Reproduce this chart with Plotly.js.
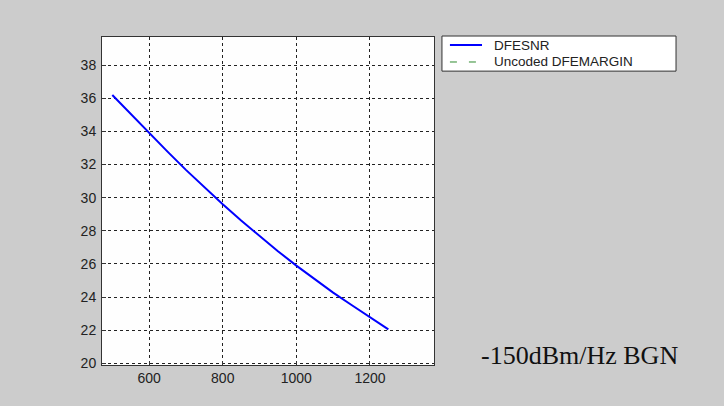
<!DOCTYPE html>
<html>
<head>
<meta charset="utf-8">
<script src="https://cdn.plot.ly/plotly-3.0.1.min.js"></script>
<style>html,body{margin:0;padding:0;background:#cccccc;}#chart{width:724px;height:406px;}</style>
</head>
<body>
<div id="chart"></div>
<script>
// Data
const freq = [500, 550, 600, 650, 700, 750, 800, 850, 900, 950, 1000, 1050, 1100, 1150, 1200, 1250];
const dfesnr = [36.2, 35.05, 33.9, 32.78, 31.68, 30.62, 29.6, 28.62, 27.67, 26.77, 25.9, 25.07, 24.27, 23.52, 22.8, 22.05];
const uncodedX = [null];
const uncodedY = [null];
const seriesNames = ["DFESNR", "Uncoded DFEMARGIN"];
const seriesColors = ["#0000ff", "#2e8b2e"];
const seriesDash = ["solid", "7px,12px"];
const xTicks = [600, 800, 1000, 1200];
const yTicks = [20, 22, 24, 26, 28, 30, 32, 34, 36, 38];
const noteText = "-150dBm/Hz BGN";

const traces = [
  {x: freq, y: dfesnr, name: seriesNames[0], type: "scatter", mode: "lines",
   line: {color: seriesColors[0], width: 2}},
  {x: uncodedX, y: uncodedY, name: seriesNames[1], type: "scatter", mode: "lines",
   line: {color: seriesColors[1], width: 1, dash: seriesDash[1]}}
];

const axisCommon = {
  showline: true, linecolor: "#333333", linewidth: 1, mirror: true,
  showgrid: true, gridcolor: "#222222", gridwidth: 1, griddash: "3px,3px",
  zeroline: false, ticks: "inside", ticklen: 4, tickcolor: "#333333",
  tickfont: {family: "Liberation Sans, Arial, sans-serif", size: 14, color: "#222222"},
  tickmode: "array"
};

// Hand-built legend box (matches the reference's wide, tight legend)
const legX0 = 1.024, legX1 = 1.729, legY0 = 0.896, legY1 = 1.003;
const rowY = [0.9756, 0.9238];
const sampleX0 = 1.048, sampleX1 = 1.1446, textX = 1.1747;

const shapes = [{
  type: "rect", xref: "paper", yref: "paper", x0: legX0, x1: legX1, y0: legY0, y1: legY1,
  fillcolor: "#ffffff", line: {color: "#333333", width: 1}
}];
const annotations = [];
seriesNames.forEach((nm, i) => {
  shapes.push({type: "line", xref: "paper", yref: "paper", x0: sampleX0, x1: sampleX1, y0: rowY[i], y1: rowY[i],
    line: {color: seriesColors[i], width: i === 0 ? 2 : 1, dash: seriesDash[i]}});
  annotations.push({text: nm, xref: "paper", yref: "paper", x: textX, y: rowY[i], xanchor: "left", yanchor: "middle",
    showarrow: false, font: {family: "Liberation Sans, Arial, sans-serif", size: 13.5, color: "#222222"}});
});
annotations.push({
  text: noteText, xref: "paper", yref: "paper", x: 1.136, y: 0.03,
  xanchor: "left", yanchor: "middle", showarrow: false,
  font: {family: "Liberation Serif, Times New Roman, serif", size: 26, color: "#111111"}
});

const layout = {
  width: 724, height: 406,
  paper_bgcolor: "#cccccc", plot_bgcolor: "#fefefe",
  margin: {l: 102, r: 290, t: 37, b: 41},
  xaxis: Object.assign({}, axisCommon, {range: [472, 1374], tickvals: xTicks, ticktext: xTicks.map(String)}),
  yaxis: Object.assign({}, axisCommon, {range: [19.9, 39.7], tickvals: yTicks, ticktext: yTicks.map(String), ticklabelstandoff: 2}),
  showlegend: false,
  shapes: shapes,
  annotations: annotations
};

Plotly.newPlot("chart", traces, layout, {displayModeBar: false, staticPlot: true});
</script>
</body>
</html>
